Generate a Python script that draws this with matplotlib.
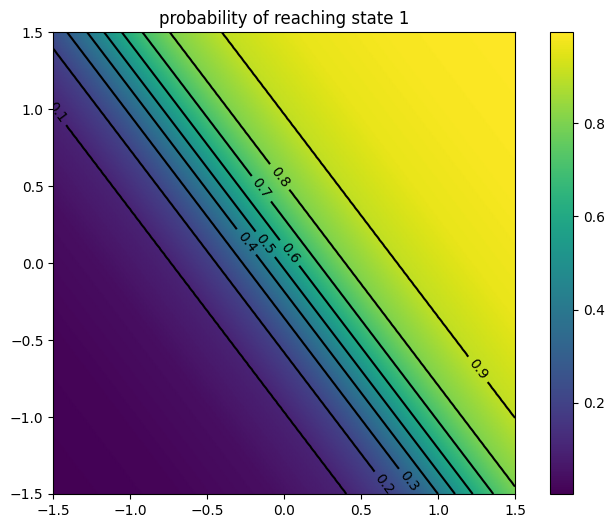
import numpy as np
import matplotlib
matplotlib.use("Agg")
import matplotlib.pyplot as plt

# contours are straight lines: p depends only on u = slope*x + y
slope = 1.316
u_table = [-3.47, -2.4, -1.6, -0.966, -0.58, -0.355, -0.184, -0.039, 0.112, 0.288, 0.521, 0.966, 1.6, 2.4, 3.47]
p_table = [0.004, 0.015, 0.04, 0.1, 0.2, 0.3, 0.4, 0.5, 0.6, 0.7, 0.8, 0.9, 0.96, 0.985, 0.995]

levels = [0.1, 0.2, 0.3, 0.4, 0.5, 0.6, 0.7, 0.8, 0.9]
# where the contour labels sit
label_pos = [(-1.45, 1.0), (0.66, -1.43), (0.82, -1.41), (-0.23, 0.15), (-0.10, 0.14),
             (0.04, 0.07), (-0.14, 0.49), (-0.03, 0.56), (1.26, -0.69)]

xs = np.linspace(-1.5, 1.5, 301)
ys = np.linspace(-1.5, 1.5, 301)
X, Y = np.meshgrid(xs, ys)
P = np.interp(slope * X + Y, u_table, p_table)

fig = plt.figure(figsize=(6.15, 5.28), dpi=100)
ax = fig.add_axes([0.0867, 0.0644, 0.7507, 0.8744])
cax = fig.add_axes([0.8948, 0.0644, 0.0374, 0.8744])

mesh = ax.pcolormesh(X, Y, P, cmap="viridis", shading="gouraud")
cs = ax.contour(X, Y, P, levels=levels, colors="black")
ax.clabel(cs, inline=True, fontsize=10, manual=label_pos)
ax.set_xlim(-1.5, 1.5)
ax.set_ylim(-1.5, 1.5)
ax.set_xticks([-1.5, -1.0, -0.5, 0.0, 0.5, 1.0, 1.5])
ax.set_yticks([-1.5, -1.0, -0.5, 0.0, 0.5, 1.0, 1.5])
ax.set_title("probability of reaching state 1")

fig.colorbar(mesh, cax=cax, ticks=[0.2, 0.4, 0.6, 0.8])

fig.savefig("out.png", dpi=100)
